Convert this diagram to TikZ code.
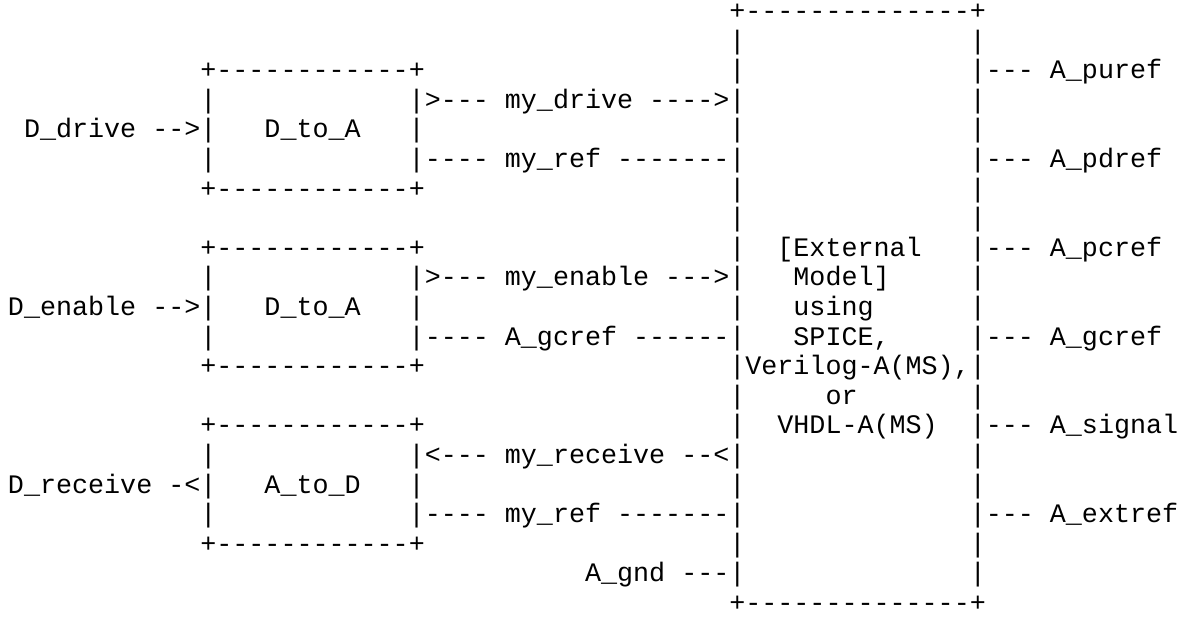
\documentclass[tikz,border=0pt]{standalone}
\usepackage{fontspec}
\newfontfamily\asciifont{Liberation Mono}

\tikzset{ascii/.style={font=\asciifont\fontsize{20.04pt}{22.2pt}\selectfont,
	anchor=base west, inner sep=0pt, outer sep=0pt}}

\begin{document}
\begin{tikzpicture}[x=12.0225pt, y=-22.2pt]
	\useasboundingbox (-0.499,-0.659) rectangle (73.24,20.321);

	% External model box
	\node [ascii] (mtop) at (45,0)  {+--------------+};
	\node [ascii] (mbot) at (45,20) {+--------------+};
	\foreach \r in {1,...,19} {
		\node [ascii] (ml\r) at (45,\r) {|};
		\node [ascii] (mr\r) at (60,\r) {|};
	}
	\node [ascii] (mtxt1) at (48,8)  {[External};
	\node [ascii] (mtxt2) at (49,9)  {Model]};
	\node [ascii] (mtxt3) at (49,10) {using};
	\node [ascii] (mtxt4) at (49,11) {SPICE,};
	\node [ascii] (mtxt5) at (46,12) {Verilog-A(MS),};
	\node [ascii] (mtxt6) at (51,13) {or};
	\node [ascii] (mtxt7) at (48,14) {VHDL-A(MS)};

	% Converter boxes {drv, ena, rcv}
	\foreach \t/\nm/\lbl in {2/drv/D\_to\_A, 8/ena/D\_to\_A, 14/rcv/A\_to\_D} {
		\node [ascii] (\nm-top) at (12,\t)   {+------------+};
		\node [ascii] (\nm-bot) at (12,\t+4) {+------------+};
		\node [ascii] (\nm-lbl) at (16,\t+2) {\lbl};
		\foreach \k in {1,2,3} {
			\node [ascii] (\nm-l\k) at (12,\t+\k) {|};
			\node [ascii] (\nm-r\k) at (25,\t+\k) {|};
		}
	}

	% Digital ports
	\node [ascii] (dDrive)   at (1,4)  {D\_drive -->};
	\node [ascii] (dEnable)  at (0,10) {D\_enable -->};
	\node [ascii] (dReceive) at (0,16) {D\_receive -<};

	% Wires between converters and model
	\node [ascii] (wDrive)   at (26,3)  {>--- my\_drive ---->};
	\node [ascii] (wRef1)    at (26,5)  {---- my\_ref -------};
	\node [ascii] (wEnable)  at (26,9)  {>--- my\_enable --->};
	\node [ascii] (wGcref)   at (26,11) {---- A\_gcref ------};
	\node [ascii] (wReceive) at (26,15) {<--- my\_receive --<};
	\node [ascii] (wRef2)    at (26,17) {---- my\_ref -------};
	\node [ascii] (wGnd)     at (36,19) {A\_gnd ---};

	% Analog ports
	\node [ascii] (aPuref)  at (61,2)  {--- A\_puref};
	\node [ascii] (aPdref)  at (61,5)  {--- A\_pdref};
	\node [ascii] (aPcref)  at (61,8)  {--- A\_pcref};
	\node [ascii] (aGcref)  at (61,11) {--- A\_gcref};
	\node [ascii] (aSignal) at (61,14) {--- A\_signal};
	\node [ascii] (aExtref) at (61,17) {--- A\_extref};
\end{tikzpicture}
\end{document}
